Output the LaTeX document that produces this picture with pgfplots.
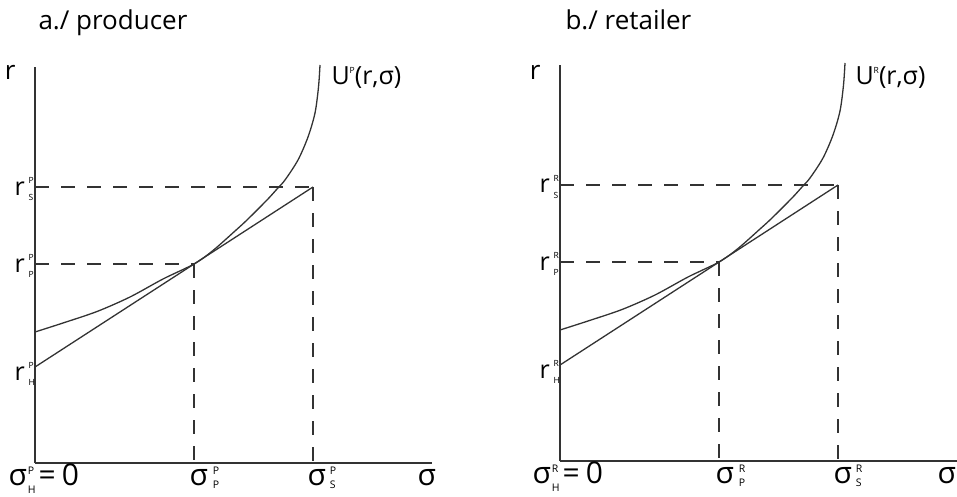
\documentclass[border=0pt]{standalone}
\usepackage{fontspec}
\setmainfont{Open Sans}
\usepackage{pgfplots}
\usepackage{pgfplotstable}
\pgfplotsset{compat=1.18}
\definecolor{ln}{HTML}{333333}
\definecolor{tx}{HTML}{1E1E1E}
\newcommand{\scr}{\fontsize{8.5}{8.5}\selectfont}
\newcommand{\scs}{\fontsize{10.5}{10.5}\selectfont}
\newcommand{\rl}[2]{{\fontsize{25}{25}\selectfont r}\kern4pt\rlap{\raisebox{12pt}{\scr #1}}\raisebox{-5pt}{\scr #2}}
\newcommand{\sg}[5]{{\fontsize{30}{30}\selectfont σ}\kern#3\rlap{\raisebox{#4}{\scs #1}}\raisebox{#5}{\scs #2}}
\newcommand{\eqz}{{\fontsize{30}{30}\selectfont=\kern6pt0}}
\pgfplotstableread{
x y
0 131
28 140
62 151.5
95 166
128 184
159 199
178 212.5
200 232
212 243
232 263
242 274
250 283
263 303
273 326
280 350
283.5 376
285 398
}\curve
\pgfplotsset{panel/.style={
  scale only axis, width=397pt, height=396pt,
  xmin=0, xmax=397, ymin=0, ymax=396,
  axis lines=left, axis line style={-, ln, line width=1.3pt},
  ticks=none, clip=false, anchor=south west,
  every node/.append style={text=tx, inner sep=0pt, outer sep=0pt},
}}
\tikzset{dsh/.style={ln, line width=1.2pt, dash pattern=on 14pt off 12pt}}
\begin{document}
\begin{tikzpicture}
\path[use as bounding box] (0,0) rectangle (957pt,496pt);
% ---------- left panel
\begin{axis}[panel, at={(35pt,33pt)}]
\addplot[ln, line width=1.3pt, smooth, tension=0.5] table {\curve};
\addplot[ln, line width=1.3pt] coordinates {(0,96) (278,276)};
\addplot[dsh] coordinates {(0,276) (278,276)};
\addplot[dsh] coordinates {(278,276) (278,0)};
\addplot[dsh] coordinates {(0,199) (159,199)};
\addplot[dsh] coordinates {(159,199) (159,0)};
\node[anchor=base west, font=\fontsize{26}{26}\selectfont] at (axis cs:0,433.5) {a./ producer};
\node[anchor=base east, font=\fontsize{26}{26}\selectfont] at (axis cs:-16,383) {r};
\node[anchor=base west, font=\fontsize{25}{25}\selectfont] at (axis cs:293,378) {U\raisebox{11pt}{\scr P}(r,σ)};
\node[anchor=base west] at (axis cs:-24,268) {\rl{P}{S}};
\node[anchor=base west] at (axis cs:-24,191) {\rl{P}{P}};
\node[anchor=base west] at (axis cs:-24,83) {\rl{P}{H}};
\node[anchor=base west] at (axis cs:-30,-22) {\sg{P}{H}{1pt}{11pt}{-8pt}\kern3pt\eqz};
\node[anchor=base west] at (axis cs:151,-22) {\sg{P}{P}{5pt}{11pt}{-3pt}};
\node[anchor=base west] at (axis cs:269,-22) {\sg{P}{S}{4pt}{11pt}{-3pt}};
\node[anchor=base west, font=\fontsize{30}{30}\selectfont] at (axis cs:379,-22) {σ};
\end{axis}
% ---------- right panel
\begin{axis}[panel, at={(560pt,35pt)}]
\addplot[ln, line width=1.3pt, smooth, tension=0.5] table {\curve};
\addplot[ln, line width=1.3pt] coordinates {(0,96) (278,276)};
\addplot[dsh] coordinates {(0,276) (278,276)};
\addplot[dsh] coordinates {(278,276) (278,0)};
\addplot[dsh] coordinates {(0,199) (159,199)};
\addplot[dsh] coordinates {(159,199) (159,0)};
\node[anchor=base west, font=\fontsize{26}{26}\selectfont] at (axis cs:2,431.5) {b./ retailer};
\node[anchor=base east, font=\fontsize{26}{26}\selectfont] at (axis cs:-16,381) {r};
\node[anchor=base west, font=\fontsize{25}{25}\selectfont] at (axis cs:292,376) {U\raisebox{11pt}{\scr R}(r,σ)};
\node[anchor=base west] at (axis cs:-24,268) {\rl{R}{S}};
\node[anchor=base west] at (axis cs:-24,191) {\rl{R}{P}};
\node[anchor=base west] at (axis cs:-24,83) {\rl{R}{H}};
\node[anchor=base west] at (axis cs:-31,-22) {\sg{R}{H}{1pt}{11pt}{-8pt}\kern3pt\eqz};
\node[anchor=base west] at (axis cs:152,-22) {\sg{R}{P}{5pt}{11pt}{-3pt}};
\node[anchor=base west] at (axis cs:270,-22) {\sg{R}{S}{4pt}{11pt}{-3pt}};
\node[anchor=base west, font=\fontsize{30}{30}\selectfont] at (axis cs:374,-22) {σ};
\end{axis}
\end{tikzpicture}
\end{document}
